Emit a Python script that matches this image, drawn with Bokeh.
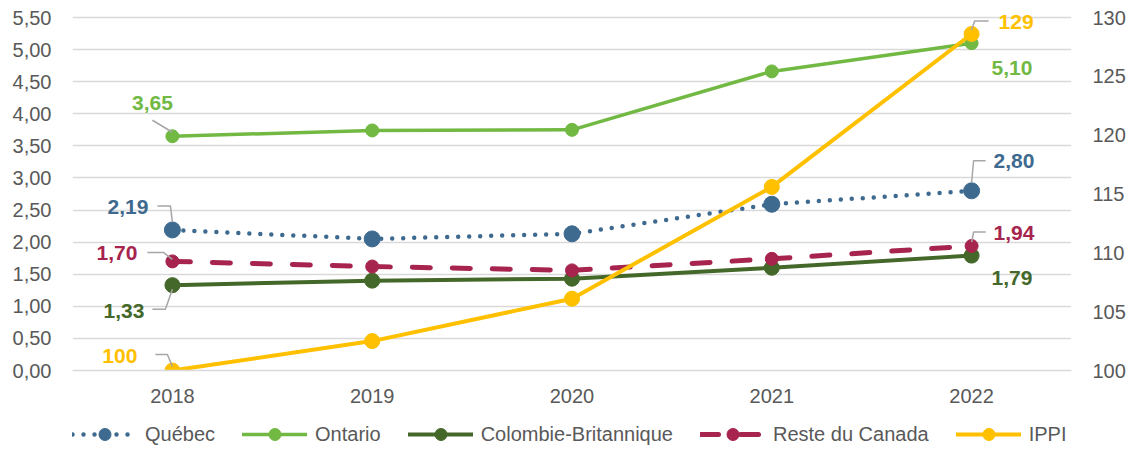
from bokeh.plotting import figure
from bokeh.layouts import column
from bokeh.models import (Range1d, LinearAxis, FixedTicker, CustomJSTickFormatter,
                          Legend, LegendItem, ColumnDataSource, LabelSet)
from bokeh.core.properties import value
from bokeh.embed import file_html
from bokeh.resources import INLINE

years = [2018, 2019, 2020, 2021, 2022]
quebec = [2.19, 2.05, 2.13, 2.59, 2.80]
ontario = [3.65, 3.74, 3.75, 4.66, 5.10]
cb = [1.33, 1.40, 1.43, 1.60, 1.79]
reste = [1.70, 1.62, 1.56, 1.74, 1.94]
ippi = [100.0, 102.5, 106.1, 115.6, 128.6]
names = ["Québec", "Ontario", "Colombie-Britannique", "Reste du Canada", "IPPI"]
left_ticks = [0.0, 0.5, 1.0, 1.5, 2.0, 2.5, 3.0, 3.5, 4.0, 4.5, 5.0, 5.5]
right_ticks = [100, 105, 110, 115, 120, 125, 130]

# layout (pixels)
FW = 999
GRID_H = 353          # height from 0,00 to 5,50
TOPPAD = 12           # extra room above top gridline for labels
FH = GRID_H + TOPPAD
BL, BT, BB, BR = 72, 5, 41, 55
LEG_H = 39
YMIN, YTOP = 0.0, 5.5
RMIN, RTOP = 100.0, 130.0
XMIN, XMAX = 2017.5, 2022.5
pxx = FW / (XMAX - XMIN)
pxl = GRID_H / (YTOP - YMIN)
pxr = GRID_H / (RTOP - RMIN)
YMAX = YTOP + TOPPAD / pxl
RMAX = RTOP + TOPPAD / pxr

TICK_FONT = "Liberation Sans"
LAB_FONT = "Liberation Sans"
GRAY = "#595959"

p = figure(frame_width=FW, frame_height=FH, output_backend="svg", toolbar_location=None,
           x_range=Range1d(XMIN, XMAX), y_range=Range1d(YMIN, YMAX),
           min_border_left=BL, min_border_right=BR, min_border_top=BT, min_border_bottom=BB)
p.extra_y_ranges = {"r": Range1d(RMIN, RMAX)}
p.outline_line_color = None
p.background_fill_color = "white"
p.border_fill_color = "white"

p.xaxis.ticker = FixedTicker(ticks=years)
p.xaxis.major_tick_line_color = None
p.xaxis.major_tick_out = 0
p.xaxis.major_tick_in = 0
p.xaxis.minor_tick_line_color = None
p.xaxis.axis_line_color = "#d9d9d9"
p.xaxis.axis_line_width = 1.5
p.xaxis.major_label_standoff = 18
p.xaxis.major_label_text_font = TICK_FONT
p.xaxis.major_label_text_font_size = "20px"
p.xaxis.major_label_text_color = GRAY
p.xgrid.grid_line_color = None

p.yaxis.ticker = FixedTicker(ticks=left_ticks)
p.yaxis.formatter = CustomJSTickFormatter(code="return tick.toFixed(2).replace('.', ',');")
p.yaxis.axis_line_color = None
p.yaxis.major_tick_line_color = None
p.yaxis.major_tick_out = 0
p.yaxis.major_tick_in = 0
p.yaxis.minor_tick_line_color = None
p.yaxis.major_label_standoff = 21
p.yaxis.major_label_text_font = TICK_FONT
p.yaxis.major_label_text_font_size = "20px"
p.yaxis.major_label_text_color = GRAY
p.ygrid.ticker = FixedTicker(ticks=left_ticks)
p.ygrid.grid_line_color = "#d9d9d9"
p.ygrid.grid_line_width = 1.5

raxis = LinearAxis(y_range_name="r", ticker=FixedTicker(ticks=right_ticks))
raxis.axis_line_color = None
raxis.major_tick_line_color = None
raxis.major_tick_out = 0
raxis.major_tick_in = 0
raxis.minor_tick_line_color = None
raxis.major_label_standoff = 21
raxis.major_label_text_font = TICK_FONT
raxis.major_label_text_font_size = "20px"
raxis.major_label_text_color = GRAY
p.add_layout(raxis, "right")

series = [
    dict(vals=quebec, color="#3f6a90", width=4.5, dash="0 11", size=16, rng="default"),
    dict(vals=ontario, color="#72b944", width=3.5, dash="solid", size=13, rng="default"),
    dict(vals=cb, color="#44682a", width=4, dash="solid", size=15, rng="default"),
    dict(vals=reste, color="#a6244d", width=5, dash="18 22", size=13, rng="default"),
    dict(vals=ippi, color="#ffc000", width=4, dash="solid", size=15, rng="r"),
]

# separate strip for the legend, below the chart
p2 = figure(frame_width=FW, frame_height=LEG_H, output_backend="svg", toolbar_location=None,
            x_range=Range1d(0, 1), y_range=Range1d(0, 1),
            min_border_left=BL, min_border_right=BR, min_border_top=0, min_border_bottom=0)
p2.axis.visible = False
p2.grid.visible = False
p2.outline_line_color = None
p2.background_fill_color = "white"
p2.border_fill_color = "white"

items = []
for name, s in zip(names, series):
    src = ColumnDataSource(dict(x=years, y=s["vals"]))
    kw = {} if s["rng"] == "default" else {"y_range_name": "r"}
    style = dict(line_color=s["color"], line_width=s["width"], line_dash=s["dash"], line_cap="round")
    p.line("x", "y", source=src, **style, **kw)
    p.scatter("x", "y", source=src, size=s["size"], fill_color=s["color"],
              line_color=s["color"], **kw)
    # legend proxies (their data lie outside the strip's ranges, so only the legend shows)
    l2 = p2.line("x", "y", source=src, **style)
    c2 = p2.scatter("x", "y", source=src, size=s["size"], fill_color=s["color"],
                    line_color=s["color"])
    items.append(LegendItem(label=name, renderers=[l2, c2]))

# data labels: (series index, point index, dx, dy (screen px, down +), align, leader path offsets)
labels = [
    (0, 0, -24, -23, "right", [(0, -8), (-2, -24), (-15, -24)]),
    (0, 4, 22, -30, "left", [(0, -8), (2, -30), (14, -30)]),
    (1, 0, -20, -33, "center", [(0, -4), (-20, -16)]),
    (1, 4, 20, 25, "left", None),
    (2, 0, -28, 26, "right", [(0, 4), (-7, 24), (-20, 24)]),
    (2, 4, 20, 22, "left", None),
    (3, 0, -35, -8, "right", [(0, -2), (-9, -9), (-25, -9)]),
    (3, 4, 22, -13, "left", [(0, -4), (2, -14), (14, -14)]),
    (4, 0, -35, -15, "right", [(0, -4), (-5, -16), (-17, -16)]),
    (4, 4, 27, -12, "left", [(0, -4), (3, -13), (17, -13)]),
]

for si, pi, dx, dy, align, path in labels:
    s = series[si]
    v = s["vals"][pi]
    txt = f"{v:.0f}" if s["rng"] == "r" else f"{v:.2f}".replace(".", ",")
    kw = {} if s["rng"] == "default" else {"y_range_name": "r"}
    scale = pxl if s["rng"] == "default" else pxr
    if path:
        xs = [years[pi] + ox / pxx for ox, oy in path]
        ys = [v - oy / scale for ox, oy in path]
        p.line(xs, ys, line_color="#a6a6a6", line_width=1.5, level="overlay", **kw)
    lsrc = ColumnDataSource(dict(x=[years[pi]], y=[v], t=[txt]))
    ls = LabelSet(x="x", y="y", text="t", source=lsrc, x_offset=dx, y_offset=-dy,
                  text_align=align, text_baseline="middle", text_color=s["color"],
                  text_font=value(LAB_FONT), text_font_size="21px", text_font_style="bold",
                  **kw)
    p.add_layout(ls)

legend = Legend(items=items, orientation="horizontal", location=(0, 1),
                glyph_width=65, glyph_height=30, label_standoff=8, spacing=27,
                padding=0, margin=0, border_line_color=None, background_fill_alpha=0,
                label_text_font=TICK_FONT, label_text_font_size="20px",
                label_text_color=GRAY)
p2.add_layout(legend, "center")

layout = column(p, p2, spacing=0)
open("out.html", "w").write(file_html(layout, INLINE))
